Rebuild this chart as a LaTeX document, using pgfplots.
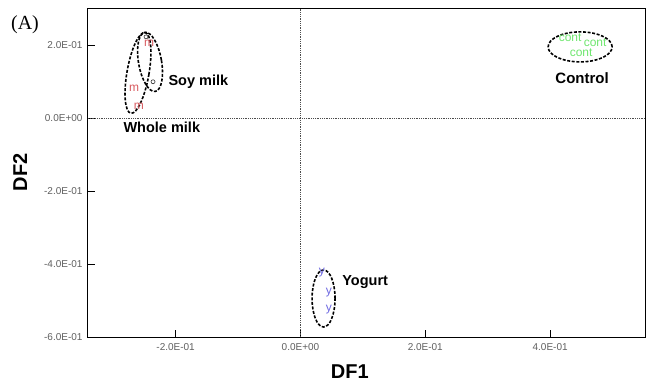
\documentclass[border=0pt]{standalone}
\usepackage{pgfplots}
\pgfplotsset{compat=1.18}
\usepackage{fontspec}
\setmainfont{Liberation Sans}
\newfontfamily\timesf{Liberation Serif}
\definecolor{mred}{RGB}{215,90,95}
\definecolor{cgreen}{RGB}{110,230,110}
\definecolor{yblue}{RGB}{110,105,225}
\definecolor{tickgray}{RGB}{95,95,95}
\begin{document}
\begin{tikzpicture}
\useasboundingbox (-88pt,-52pt) rectangle (566pt,337pt);
\node[font=\timesf\fontsize{20}{22}\selectfont, anchor=center] at (-63pt,312pt) {(A)};
\begin{axis}[at={(0pt,0pt)}, anchor=south west, scale only axis,
  width=557pt, height=329pt,
  xmin=-0.3404, xmax=0.552, ymin=-0.6, ymax=0.301,
  xtick={-0.2,0,0.2,0.4}, xticklabels={-2.0E-01,0.0E+00,2.0E-01,4.0E-01},
  ytick={-0.6,-0.4,-0.2,0,0.2}, yticklabels={-6.0E-01,-4.0E-01,-2.0E-01,0.0E+00,2.0E-01},
  tick align=inside, xtick pos=bottom, ytick pos=left, major tick length=7pt,
  tick style={black, line width=0.6pt},
  axis line style={line width=1pt},
  ticklabel style={font=\fontsize{10}{11}\selectfont, text=tickgray},
  xticklabel style={yshift=-3pt},
  yticklabel style={xshift=-2pt},
  xlabel={DF1}, ylabel={DF2},
  every axis x label/.style={at={(axis description cs:0.470,-0.106)}, anchor=center, font=\bfseries\fontsize{20}{22}\selectfont},
  every axis y label/.style={at={(axis description cs:-0.122,0.5)}, rotate=90, anchor=center, font=\bfseries\fontsize{20}{22}\selectfont},
  clip=false,
]
% reference lines
\addplot[black!70, densely dotted, line width=0.8pt] coordinates {(0,-0.6) (0,0.301)};
\addplot[black!70, densely dotted, line width=0.8pt] coordinates {(-0.3404,0) (0.552,0)};
% whole milk
\addplot[color=mred, only marks, mark=text, text mark={\color{mred}\fontsize{12}{13}\selectfont m}]
  coordinates {(-0.2667,0.082) (-0.2587,0.033) (-0.2426,0.205)};
% soy milk
\addplot[color=black!80, only marks, mark=o, mark size=2pt, line width=0.6pt]
  coordinates {(-0.2474,0.222) (-0.2362,0.099)};
% control
\addplot[color=cgreen, only marks, mark=text, text mark={\color{cgreen}\fontsize{12}{13}\selectfont cont}]
  coordinates {(0.4320,0.219) (0.4721,0.205) (0.4497,0.178)};
% yogurt
\addplot[color=yblue, only marks, mark=text, text mark={\color{yblue}\fontsize{12}{13}\selectfont y}]
  coordinates {(0.0343,-0.4247) (0.0455,-0.4795) (0.0455,-0.526)};
% ellipses
\tikzset{grp/.style={black, line width=1.6pt, dash pattern=on 3pt off 1.6pt}}
\draw[grp, rotate around={-10:(axis cs:-0.2603,0.1233)}] (axis cs:-0.2603,0.1233) ellipse [x radius=11pt, y radius=41pt];
\draw[grp, rotate around={10:(axis cs:-0.2410,0.1534)}] (axis cs:-0.2410,0.1534) ellipse [x radius=11.5pt, y radius=30pt];
\draw[grp] (axis cs:0.4481,0.1945) ellipse [x radius=32pt, y radius=15pt];
\draw[grp] (axis cs:0.0370,-0.4945) ellipse [x radius=11.5pt, y radius=28.5pt];
% group labels
\node[font=\bfseries\fontsize{14.5}{16}\selectfont, anchor=west] at (axis cs:-0.2170,0.0986) {Soy milk};
\node[font=\bfseries\fontsize{14.5}{16}\selectfont, anchor=west] at (axis cs:-0.2891,-0.0247) {Whole milk};
\node[font=\bfseries\fontsize{15}{16}\selectfont, anchor=center] at (axis cs:0.4513,0.1096) {Control};
\node[font=\bfseries\fontsize{14.5}{16}\selectfont, anchor=west] at (axis cs:0.0615,-0.4493) {Yogurt};
\end{axis}
\end{tikzpicture}
\end{document}
